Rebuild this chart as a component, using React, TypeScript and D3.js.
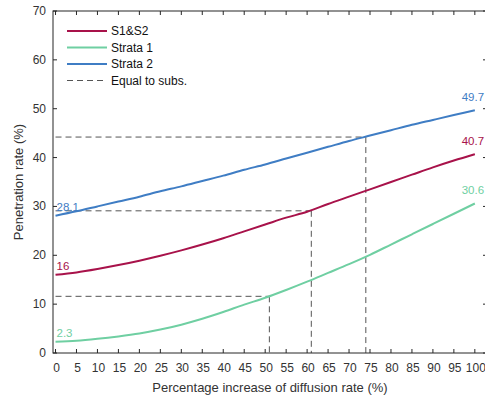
import React from "react";
import * as d3 from "d3";

const xValues = [0, 5, 10, 15, 20, 25, 30, 35, 40, 45, 50, 55, 60, 65, 70, 75, 80, 85, 90, 95, 100];
const s1s2 = [16, 16.5, 17.2, 18.0, 18.9, 19.9, 21.0, 22.2, 23.5, 24.9, 26.3, 27.7, 28.9, 30.5, 32.0, 33.5, 35.0, 36.5, 38.0, 39.4, 40.7];
const strata1 = [2.3, 2.5, 2.9, 3.4, 4.0, 4.8, 5.8, 7.0, 8.4, 9.9, 11.3, 12.9, 14.6, 16.4, 18.2, 20.1, 22.2, 24.3, 26.4, 28.5, 30.6];
const strata2 = [28.1, 29.0, 30.0, 31.0, 32.0, 33.1, 34.1, 35.2, 36.3, 37.5, 38.6, 39.8, 41.0, 42.2, 43.4, 44.5, 45.6, 46.7, 47.7, 48.7, 49.7];
const seriesNames = ["S1&S2", "Strata 1", "Strata 2"];
const seriesColors = ["#A8124A", "#6FCFA2", "#3F7DC4"];
const startLabels = ["16", "2.3", "28.1"];
const endLabels = ["40.7", "30.6", "49.7"];
// equal-to-subsidy crossings: [x, y]
const equalX = [51, 61, 74];
const equalY = [11.6, 29.1, 44.2];
const xTicks = d3.range(0, 101, 5);
const yTicks = [0, 10, 20, 30, 40, 50, 60, 70];

const W = 485, H = 399;
const M = { left: 53, right: 487, top: 11, bottom: 353 };

export default function App() {
  const x = d3.scaleLinear().domain([-0.6, 102.9]).range([M.left, M.right]);
  const y = d3.scaleLinear().domain([0, 70]).range([M.bottom, M.top]);
  const allSeries = [s1s2, strata1, strata2];
  const line = d3.line<number>().x((_, i) => x(xValues[i])).y((d) => y(d)).curve(d3.curveMonotoneX);
  const axisColor = "#262626";
  const textColor = "#333";
  const font = "'Liberation Sans', Arial, sans-serif";
  const tl = 4;
  return (
    <svg width={W} height={H} style={{ position: "absolute", left: 0, top: 0, background: "#fff" }} fontFamily={font}>
      <rect x={0} y={0} width={W} height={H} fill="#fff" />
      {/* dashed guides */}
      {equalX.map((ex, i) => (
        <g key={"eq" + i} stroke="#555" strokeWidth={1} strokeDasharray="6,4" fill="none">
          <line x1={x(0)} x2={x(ex)} y1={y(equalY[i])} y2={y(equalY[i])} />
          <line x1={x(ex)} x2={x(ex)} y1={y(equalY[i])} y2={y(0)} />
        </g>
      ))}
      {/* series lines */}
      {allSeries.map((s, i) => (
        <path key={"s" + i} d={line(s) || ""} fill="none" stroke={seriesColors[i]} strokeWidth={2} />
      ))}
      {/* value labels */}
      {allSeries.map((s, i) => (
        <g key={"lab" + i} fontSize={11.5} fill={seriesColors[i]}>
          <text x={x(0) + 1} y={y(s[0]) - 5}>{startLabels[i]}</text>
          <text x={x(100) - 2} y={y(s[s.length - 1]) - 9} textAnchor="middle">{endLabels[i]}</text>
        </g>
      ))}
      {/* frame */}
      <rect x={M.left} y={M.top} width={M.right - M.left} height={M.bottom - M.top} fill="none" stroke={axisColor} strokeWidth={1} />
      {xTicks.map((t) => (
        <g key={"xt" + t} stroke={axisColor}>
          <line x1={x(t)} x2={x(t)} y1={M.bottom} y2={M.bottom - tl} />
          <line x1={x(t)} x2={x(t)} y1={M.top} y2={M.top + tl} />
        </g>
      ))}
      {yTicks.map((t) => (
        <g key={"yt" + t} stroke={axisColor}>
          <line x1={M.left} x2={M.left + tl} y1={y(t)} y2={y(t)} />
          <line x1={M.right} x2={M.right - tl} y1={y(t)} y2={y(t)} />
        </g>
      ))}
      {xTicks.map((t) => (
        <text key={"xl" + t} x={x(t) + 1} y={372} fontSize={12} fill={textColor} textAnchor="middle">{t}</text>
      ))}
      {yTicks.map((t) => (
        <text key={"yl" + t} x={46} y={y(t) + 4} fontSize={12} fill={textColor} textAnchor="end">{t}</text>
      ))}
      <text x={(M.left + M.right) / 2} y={392} fontSize={13} fill={textColor} textAnchor="middle">Percentage increase of diffusion rate (%)</text>
      <text transform={`translate(23,${(M.top + M.bottom) / 2}) rotate(-90)`} fontSize={13} fill={textColor} textAnchor="middle">Penetration rate (%)</text>
      {/* legend */}
      {seriesNames.map((n, i) => (
        <g key={"lg" + i}>
          <line x1={67} x2={107} y1={31 + i * 16.5} y2={31 + i * 16.5} stroke={seriesColors[i]} strokeWidth={2} />
          <text x={111} y={31 + i * 16.5 + 4} fontSize={12} fill="#111">{n}</text>
        </g>
      ))}
      <line x1={67} x2={107} y1={31 + 3 * 16.5} y2={31 + 3 * 16.5} stroke="#555" strokeWidth={1} strokeDasharray="6,4" />
      <text x={111} y={31 + 3 * 16.5 + 4} fontSize={12} fill="#111">Equal to subs.</text>
    </svg>
  );
}
